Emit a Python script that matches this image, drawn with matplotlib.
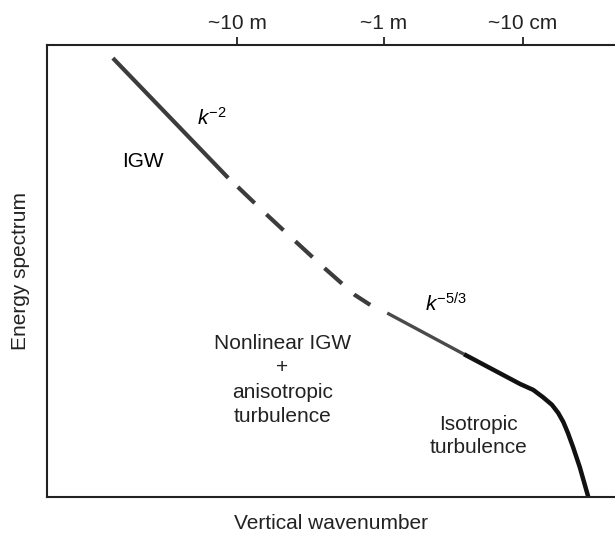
import numpy as np
import matplotlib
matplotlib.use("Agg")
import matplotlib.pyplot as plt

plt.rcParams["font.family"] = ["Liberation Sans", "DejaVu Sans"]
plt.rcParams["mathtext.fontset"] = "custom"
plt.rcParams["mathtext.rm"] = "Liberation Sans"
plt.rcParams["mathtext.it"] = "Liberation Sans:italic"

# Schematic spectrum, axis units 0-100 (log wavenumber / log energy)
igw_k = [11.6, 31.9]
igw_E = [97.1, 70.6]

trans_k = [33.6, 38.4, 43.7, 48.8, 54.2, 56.9]
trans_E = [68.6, 62.8, 56.6, 50.7, 44.7, 42.5]

aniso_k = [59.9, 73.4]
aniso_E = [40.7, 31.6]

iso_k = [73.4, 83.3, 85.6, 87.3, 88.9, 90.0, 90.9, 91.7, 92.6, 93.8, 95.3]
iso_E = [31.6, 25.0, 23.7, 22.1, 20.4, 18.6, 16.6, 14.2, 11.1, 6.6, 0.0]

tick_pos = [33.45, 59.33, 83.8]
tick_labels = ["~10 m", "~1 m", "~10 cm"]

fig = plt.figure(figsize=(6.15, 5.43), dpi=100)
ax = fig.add_axes([0.0764, 0.0847, 0.9236, 0.8324])

ax.plot(igw_k, igw_E, color="#3c3c3c", lw=3.0, solid_capstyle="butt")
ax.plot(trans_k, trans_E, color="#3c3c3c", lw=3.0, ls=(0, (5.6, 3.9)),
        dash_capstyle="butt")
ax.plot(aniso_k, aniso_E, color="#4a4a4a", lw=2.4, solid_capstyle="butt")
ax.plot(iso_k, iso_E, color="#111111", lw=3.2, solid_capstyle="butt",
        solid_joinstyle="round", clip_on=False)

ax.text(29.0, 83.9, r"$k^{-2}$", fontsize=15, ha="center", va="center")
ax.text(70.2, 42.7, r"$k^{-5/3}$", fontsize=15, ha="center", va="center")
ax.text(16.9, 74.3, "IGW", fontsize=15, ha="center", va="center")
ax.text(41.4, 25.9, "Nonlinear IGW\n+\nanisotropic\nturbulence",
        fontsize=15, ha="center", va="center", color="#222222",
        linespacing=1.35)
ax.text(75.9, 13.5, "Isotropic\nturbulence", fontsize=15,
        ha="center", va="center", color="#222222", linespacing=1.25)

ax.set_xlim(0, 100)
ax.set_ylim(0, 100)
ax.spines["right"].set_visible(False)
for s in ["left", "top", "bottom"]:
    ax.spines[s].set_linewidth(1.5)
    ax.spines[s].set_color("#222222")

ax.xaxis.tick_top()
ax.set_xticks(tick_pos)
ax.set_xticklabels(tick_labels, fontsize=15, color="#222222")
ax.tick_params(axis="x", length=6, width=1.3, pad=3, color="#222222")
ax.set_yticks([])

ax.set_xlabel("Vertical wavenumber", fontsize=15, labelpad=12, color="#222222")
ax.xaxis.set_label_position("bottom")
ax.set_ylabel("Energy spectrum", fontsize=15, labelpad=12, color="#222222")

fig.savefig("out.png", dpi=100)
